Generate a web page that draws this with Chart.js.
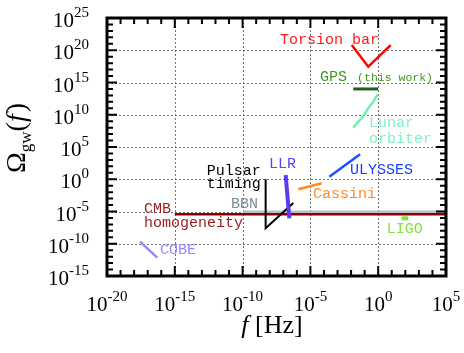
<!DOCTYPE html>
<html><head><meta charset="utf-8">
<script src="https://cdn.jsdelivr.net/npm/chart.js@4/dist/chart.umd.min.js"></script>
<style>html,body{margin:0;padding:0;background:#fff;}canvas{display:block;}</style>
</head><body>
<canvas id="c" width="464" height="353"></canvas>
<script>
// ---- tick labels (powers of ten) ----
const xTickExponents = [-20, -15, -10, -5, 0, 5];
const yTickExponents = [-15, -10, -5, 0, 5, 10, 15, 20, 25];

// ---- series (frequency f [Hz], Omega_gw) ----
const torsionF = [0.0112, 0.186, 8.3];
const torsionOmega = [6.3e20, 2.8e17, 6.3e20];
const gpsF = [0.0145, 1.0];
const gpsOmega = [1e14, 1e14];
const lunarF = [0.0145, 0.060, 0.186, 0.44, 0.93];
const lunarOmega = [1.1e8, 2.8e9, 1.0e11, 1.07e12, 1.5e13];
const ulyssesF = [2.5e-4, 0.046];
const ulyssesOmega = [2.5, 7.4e3];
const cassiniF = [1.26e-6, 6.8e-5];
const cassiniOmega = [0.0275, 0.234];
const cmbF = [1e-15, 1e5];
const cmbOmega = [3.7e-6, 3.7e-6];
const bbnF = [1.1e-10, 1e5];
const bbnOmega = [8.3e-6, 8.3e-6];
const pulsarF = [5.0e-9, 5.0e-9, 5.5e-7];
const pulsarOmega = [1.0, 2.5e-8, 2.0e-4];
const llrF = [1.5e-7, 2.8e-7];
const llrOmega = [4.6, 8.7e-7];
const cobeF = [2.7e-18, 5.1e-17];
const cobeOmega = [2.1e-10, 6.9e-13];
const ligoF = [54, 166];
const ligoOmega = [8.7e-7, 8.7e-7];

const pts = (fs, os) => fs.map((f, i) => ({x: f, y: os[i]}));
const ds = (fs, os, color, width) => ({data: pts(fs, os), borderColor: color, borderWidth: width,
  showLine: true, pointRadius: 0, fill: false, tension: 0, borderCapStyle: 'butt'});

// text annotations anchored in data coordinates
const notes = [
  {t: 'Torsion bar', f: 5.8e-8, o: 3.9e21, c: '#ff1a1a', s: 15},
  {t: 'GPS', f: 5.1e-5, o: 7.1e15, c: '#3a9a1c', s: 15},
  {t: '(this work)', f: 0.0277, o: 6.0e15, c: '#3a9a1c', s: 11.5},
  {t: 'Lunar', f: 0.21, o: 5.2e8, c: '#7ff2bf', s: 15},
  {t: 'orbiter', f: 0.21, o: 1.7e6, c: '#7ff2bf', s: 15},
  {t: 'ULYSSES', f: 8.3e-3, o: 23, c: '#1a40ff', s: 15},
  {t: 'Cassini', f: 1.55e-5, o: 5.1e-3, c: '#ff8a2a', s: 15},
  {t: 'BBN', f: 1.4e-11, o: 1.45e-4, c: '#7a8c96', s: 15},
  {t: 'CMB', f: 5.4e-18, o: 2.5e-5, c: '#9b1c1c', s: 15},
  {t: 'homogeneity', f: 5.4e-18, o: 1.66e-7, c: '#9b1c1c', s: 15},
  {t: 'Pulsar', f: 2.3e-13, o: 19, c: '#000000', s: 15},
  {t: 'timing', f: 2.3e-13, o: 0.18, c: '#000000', s: 15},
  {t: 'LLR', f: 8.9e-9, o: 230, c: '#6040f0', s: 15},
  {t: 'COBE', f: 8.1e-17, o: 1.07e-11, c: '#9a88f8', s: 15},
  {t: 'LIGO', f: 4.3, o: 1.95e-8, c: '#88e040', s: 15}
];

function drawPow(ctx, exp, x, y, align) {
  const base = '10', sup = String(exp);
  ctx.font = '21px "Liberation Serif"';
  const wb = ctx.measureText(base).width;
  ctx.font = '15px "Liberation Serif"';
  const we = ctx.measureText(sup).width;
  const total = wb + we;
  let sx = align === 'center' ? x - total / 2 : x - total;
  ctx.textAlign = 'left';
  ctx.textBaseline = 'alphabetic';
  ctx.fillStyle = '#000';
  ctx.font = '21px "Liberation Serif"';
  ctx.fillText(base, sx, y);
  ctx.font = '15px "Liberation Serif"';
  ctx.fillText(sup, sx + wb, y - 10);
}

const framePlugin = {
  id: 'framePlugin',
  beforeDatasetsDraw(chart) {
    const ctx = chart.ctx, a = chart.chartArea, xs = chart.scales.x, ys = chart.scales.y;
    ctx.save();
    ctx.strokeStyle = '#707070';
    ctx.lineWidth = 1;
    ctx.setLineDash([2, 2]);
    xTickExponents.slice(1, -1).forEach(e => {
      const px = Math.round(xs.getPixelForValue(Math.pow(10, e))) + 0.5;
      ctx.beginPath(); ctx.moveTo(px, a.top); ctx.lineTo(px, a.bottom); ctx.stroke();
    });
    yTickExponents.slice(1, -1).forEach(e => {
      const py = Math.round(ys.getPixelForValue(Math.pow(10, e))) + 0.5;
      ctx.beginPath(); ctx.moveTo(a.left, py); ctx.lineTo(a.right, py); ctx.stroke();
    });
    ctx.restore();
  },
  afterDatasetsDraw(chart) {
    const ctx = chart.ctx, a = chart.chartArea, xs = chart.scales.x, ys = chart.scales.y;
    ctx.save();
    // annotations
    notes.forEach(n => {
      ctx.font = n.s + 'px "Liberation Mono"';
      ctx.fillStyle = n.c;
      ctx.textAlign = 'left';
      ctx.textBaseline = 'middle';
      ctx.fillText(n.t, xs.getPixelForValue(n.f), ys.getPixelForValue(n.o));
    });
    // frame
    ctx.strokeStyle = '#000';
    ctx.lineWidth = 3;
    ctx.strokeRect(a.left, a.top, a.right - a.left, a.bottom - a.top);
    // ticks
    ctx.lineWidth = 2;
    const x0 = xTickExponents[0], x1 = xTickExponents[xTickExponents.length - 1];
    for (let e = x0; e <= x1; e++) {
      const px = xs.getPixelForValue(Math.pow(10, e));
      const len = (e % 5 === 0) ? 10 : 6;
      ctx.beginPath();
      ctx.moveTo(px, a.bottom); ctx.lineTo(px, a.bottom - len);
      ctx.moveTo(px, a.top); ctx.lineTo(px, a.top + len);
      ctx.stroke();
    }
    const y0 = yTickExponents[0], y1 = yTickExponents[yTickExponents.length - 1];
    for (let e = y0; e <= y1; e++) {
      const py = ys.getPixelForValue(Math.pow(10, e));
      const len = (e % 5 === 0) ? 10 : 6;
      ctx.beginPath();
      ctx.moveTo(a.left, py); ctx.lineTo(a.left + len, py);
      ctx.moveTo(a.right, py); ctx.lineTo(a.right - len, py);
      ctx.stroke();
    }
    // tick labels
    xTickExponents.forEach(e => drawPow(ctx, e, xs.getPixelForValue(Math.pow(10, e)), a.bottom + 35, 'center'));
    yTickExponents.forEach(e => drawPow(ctx, e, a.left - 18, ys.getPixelForValue(Math.pow(10, e)) + 9, 'right'));
    // x title
    ctx.fillStyle = '#000';
    ctx.textBaseline = 'alphabetic';
    ctx.textAlign = 'left';
    ctx.font = 'italic 26px "Liberation Serif"';
    const wf = ctx.measureText('f').width;
    ctx.font = '26px "Liberation Serif"';
    const wh = ctx.measureText(' [Hz]').width;
    let sx = 272 - (wf + wh) / 2;
    ctx.font = 'italic 26px "Liberation Serif"';
    ctx.fillText('f', sx, 333);
    ctx.font = '26px "Liberation Serif"';
    ctx.fillText(' [Hz]', sx + wf, 333);
    // y title (rotated)
    ctx.translate(25, 138);
    ctx.rotate(-Math.PI / 2);
    const parts = [
      {t: 'Ω', f: '28px "Liberation Serif"', dy: 0},
      {t: 'gw', f: '17px "Liberation Serif"', dy: 6},
      {t: '(', f: '28px "Liberation Serif"', dy: 0},
      {t: 'f', f: 'italic 28px "Liberation Serif"', dy: 0},
      {t: ')', f: '28px "Liberation Serif"', dy: 0}
    ];
    let tw = 0;
    parts.forEach(p => { ctx.font = p.f; p.w = ctx.measureText(p.t).width + (p.t === 'f' ? 2 : 0); tw += p.w; });
    let cx = -tw / 2;
    parts.forEach(p => { ctx.font = p.f; ctx.fillText(p.t, cx, p.dy); cx += p.w; });
    ctx.restore();
  }
};

new Chart(document.getElementById('c'), {
  type: 'scatter',
  data: {
    datasets: [
      ds(llrF, llrOmega, '#5a3cf0', 4),
      ds(pulsarF, pulsarOmega, '#000000', 2),
      ds(ligoF, ligoOmega, '#80e040', 4),
      ds(cobeF, cobeOmega, '#9a88f0', 2.5),
      ds(cassiniF, cassiniOmega, '#ff8c20', 2.5),
      ds(ulyssesF, ulyssesOmega, '#1a50ff', 2.5),
      ds(lunarF, lunarOmega, '#70f0b0', 2.5),
      ds(gpsF, gpsOmega, '#1e5e1e', 3),
      ds(torsionF, torsionOmega, '#ff0000', 2.5),
      ds(cmbF, cmbOmega, '#8b0000', 2.5),
      ds(bbnF, bbnOmega, '#b8c0c0', 3)
    ]
  },
  options: {
    responsive: false,
    devicePixelRatio: 1,
    animation: false,
    layout: {padding: {left: 107, top: 18, right: 18, bottom: 77}},
    plugins: {legend: {display: false}, tooltip: {enabled: false}},
    scales: {
      x: {type: 'logarithmic', display: false, min: 1e-20, max: 1e5},
      y: {type: 'logarithmic', display: false, min: 1e-15, max: 1e25}
    }
  },
  plugins: [framePlugin]
});
</script>
</body></html>
